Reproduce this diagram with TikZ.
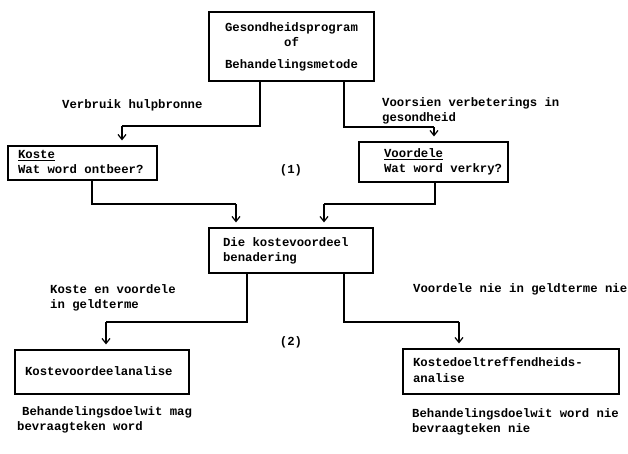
\documentclass[tikz,border=0pt]{standalone}
\usepackage{fontspec}
\setmonofont{Liberation Mono}
\usetikzlibrary{arrows.meta}

\begin{document}
\begin{tikzpicture}[x=1pt, y=-1pt,
            font=\ttfamily\bfseries\fontsize{12.3}{15}\selectfont,
            blok/.style={draw, rectangle, line width=1.2pt, inner sep=0pt},
            lyn/.style={line width=1.2pt},
            pyl/.style={line width=1.2pt, -{Straight Barb[length=5pt, width=8pt]}, shorten >=5pt},
            teks/.style={anchor=west, align=left, inner sep=0pt},
        ]
            \useasboundingbox (0,0) rectangle (628,453);
            % boxes
            \node[blok, minimum width=165pt, minimum height=69pt](program) at (291.5,46.5) {\begin{tabular}{c} Gesondheidsprogram \\ of \\[7pt] Behandelingsmetode \end{tabular}};
            \node[blok, minimum width=149pt, minimum height=34pt](koste) at (82.5,163) {\begin{tabular}{@{\hspace{10pt}}p{139pt}@{}} \underline{Koste} \\ Wat word ontbeer? \end{tabular}};
            \node[blok, minimum width=149pt, minimum height=40pt](voordele) at (433.5,162) {\begin{tabular}{@{\hspace{25pt}}p{124pt}@{}} \underline{Voordele} \\ Wat word verkry? \end{tabular}};
            \node[blok, minimum width=164pt, minimum height=45pt](benadering) at (291,250.5) {\begin{tabular}{@{\hspace{14pt}}p{150pt}@{}} Die kostevoordeel \\ benadering \end{tabular}};
            \node[blok, minimum width=174pt, minimum height=44pt](kva) at (102,372) {\begin{tabular}{@{\hspace{10pt}}p{164pt}@{}} Kostevoordeelanalise \end{tabular}};
            \node[blok, minimum width=216pt, minimum height=45pt](kda) at (511,371.5) {\begin{tabular}{@{\hspace{10pt}}p{206pt}@{}} Kostedoeltreffendheids- \\[1pt] analise \end{tabular}};
            % labels
            \node[teks](hulpbronne) at (62,105) {Verbruik hulpbronne};
            \node[teks](verbeterings) at (382,111) {Voorsien verbeterings in\\gesondheid};
            \node[teks](geldterme) at (50,297.5) {Koste en voordele\\in geldterme};
            \node[teks](niegeld) at (413,289) {Voordele nie in geldterme nie};
            \node(een) at (291,170) {(1)};
            \node(twee) at (291,342) {(2)};
            \node[teks](doelmag) at (17,420) {\hspace{5pt}Behandelingsdoelwit mag\\bevraagteken word};
            \node[teks](doelnie) at (412,421.5) {Behandelingsdoelwit word nie\\bevraagteken nie};
            % connectors
            \coordinate (a1) at (260,126);
            \coordinate (a2) at (122,126);
            \coordinate (b1) at (344,127);
            \coordinate (b2) at (434,127);
            \coordinate (c1) at (92,204);
            \coordinate (c2) at (236,204);
            \coordinate (d1) at (435,204);
            \coordinate (d2) at (324,204);
            \coordinate (e1) at (247,322);
            \coordinate (e2) at (106,322);
            \coordinate (f1) at (344,322);
            \coordinate (f2) at (459,322);
            \draw[lyn] (a1 |- program.south) -- (a1) -- (a2);
            \draw[pyl] (a2) -- (a2 |- koste.north);
            \draw[lyn] (b1 |- program.south) -- (b1) -- (b2);
            \draw[pyl] (b2) -- (b2 |- voordele.north);
            \draw[lyn] (c1 |- koste.south) -- (c1) -- (c2);
            \draw[pyl] (c2) -- (c2 |- benadering.north);
            \draw[lyn] (d1 |- voordele.south) -- (d1) -- (d2);
            \draw[pyl] (d2) -- (d2 |- benadering.north);
            \draw[lyn] (e1 |- benadering.south) -- (e1) -- (e2);
            \draw[pyl] (e2) -- (e2 |- kva.north);
            \draw[lyn] (f1 |- benadering.south) -- (f1) -- (f2);
            \draw[pyl] (f2) -- (f2 |- kda.north);
        \end{tikzpicture}
\end{document}
